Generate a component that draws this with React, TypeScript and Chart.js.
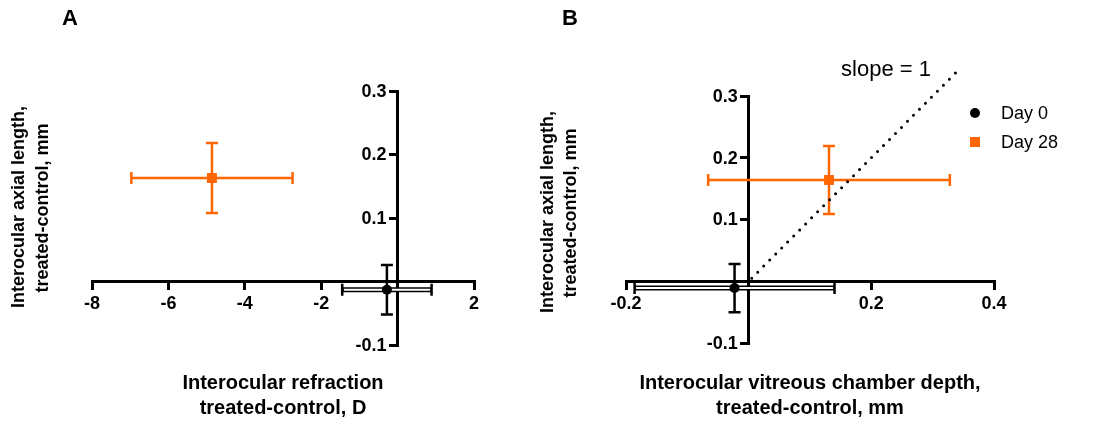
import React, { useEffect, useRef } from 'react';
import { Chart, registerables } from 'chart.js';

Chart.register(...registerables);

const FONT = '"Liberation Sans", Arial, Helvetica, sans-serif';
const ORANGE = '#ff6600';
const BLACK = '#000000';

// ---- data ----
const SERIES = ['Day 0', 'Day 28'];
const SERIES_COLORS = [BLACK, ORANGE];

// Panel A: interocular refraction (D) vs axial length (mm)
const A_X = [-0.28, -4.86];
const A_Y = [-0.013, 0.163];
const A_XERR = [1.17, 2.11];
const A_YERR = [0.039, 0.055];
const A_X_RANGE = [-8, 2];
const A_X_STEP = 2;

// Panel B: vitreous chamber depth (mm) vs axial length (mm)
const B_X = [-0.023, 0.131];
const B_Y = [-0.011, 0.164];
const B_XERR = [0.163, 0.197];
const B_YERR = [0.039, 0.055];
const B_X_RANGE = [-0.2, 0.4];
const B_X_STEP = 0.2;

const Y_RANGE = [-0.1, 0.3];
const Y_STEP = 0.1;

// slope = 1 reference line (x values; y = x)
const SLOPE_X = [0.005, 0.342];

const TICK_FONT = `bold 18px ${FONT}`;

type Txt = { text: string; x: number; y: number; font: string; rot?: number; align?: CanvasTextAlign; color?: string };
type Leg = { x: number; y: number; textX: number };

const fmt1 = (v: number) => (Math.abs(v) < 1e-9 ? '' : Number(v).toFixed(1));
const fmt0 = (v: number) => (Math.abs(v) < 1e-9 ? '' : String(Math.round(v)));

function makeTextPlugin(items: Txt[], legend?: Leg[]) {
  return {
    id: 'texts',
    afterDraw(chart: any) {
      const ctx: CanvasRenderingContext2D = chart.ctx;
      // y tick labels, placed left of the centred y axis
      const sx = chart.scales.x;
      const sy = chart.scales.y;
      const axisPx = sx.getPixelForValue(0);
      ctx.save();
      ctx.font = TICK_FONT;
      ctx.fillStyle = BLACK;
      ctx.textAlign = 'right';
      ctx.textBaseline = 'middle';
      sy.ticks.forEach((t: any) => {
        const lab = fmt1(t.value);
        if (lab) ctx.fillText(lab, axisPx - 11, sy.getPixelForValue(t.value) + 1);
      });
      ctx.restore();

      items.forEach((t) => {
        ctx.save();
        ctx.font = t.font;
        ctx.fillStyle = t.color || BLACK;
        ctx.textAlign = t.align || 'center';
        ctx.textBaseline = 'middle';
        ctx.translate(t.x, t.y);
        if (t.rot) ctx.rotate(t.rot);
        ctx.fillText(t.text, 0, 0);
        ctx.restore();
      });
      if (legend) {
        legend.forEach((l, i) => {
          ctx.save();
          ctx.fillStyle = SERIES_COLORS[i];
          if (i === 0) {
            ctx.beginPath();
            ctx.arc(l.x, l.y, 5, 0, Math.PI * 2);
            ctx.fill();
          } else {
            ctx.fillRect(l.x - 5, l.y - 5, 10, 10);
          }
          ctx.fillStyle = BLACK;
          ctx.font = `18px ${FONT}`;
          ctx.textAlign = 'left';
          ctx.textBaseline = 'middle';
          ctx.fillText(SERIES[i], l.textX, l.y + 1);
          ctx.restore();
        });
      }
    },
  };
}

function makeErrorPlugin(xs: number[], ys: number[], xe: number[], ye: number[]) {
  return {
    id: 'errorBars',
    beforeDatasetsDraw(chart: any) {
      const ctx: CanvasRenderingContext2D = chart.ctx;
      const sx = chart.scales.x;
      const sy = chart.scales.y;
      const cap = 6;
      xs.forEach((xv, i) => {
        const color = SERIES_COLORS[i];
        const px = sx.getPixelForValue(xv);
        const py = sy.getPixelForValue(ys[i]);
        const x1 = sx.getPixelForValue(xv - xe[i]);
        const x2 = sx.getPixelForValue(xv + xe[i]);
        const y1 = sy.getPixelForValue(ys[i] + ye[i]);
        const y2 = sy.getPixelForValue(ys[i] - ye[i]);
        ctx.save();
        ctx.strokeStyle = color;
        ctx.lineCap = 'butt';
        if (i === 0) {
          ctx.lineWidth = 5;
          ctx.beginPath();
          ctx.moveTo(x1, py);
          ctx.lineTo(x2, py);
          ctx.stroke();
          ctx.strokeStyle = '#ffffff';
          ctx.lineWidth = 2;
          ctx.beginPath();
          ctx.moveTo(x1 + 1.5, py);
          ctx.lineTo(x2 - 1.5, py);
          ctx.stroke();
          ctx.strokeStyle = color;
        } else {
          ctx.lineWidth = 2.5;
          ctx.beginPath();
          ctx.moveTo(x1, py);
          ctx.lineTo(x2, py);
          ctx.stroke();
        }
        ctx.lineWidth = 2.5;
        ctx.beginPath();
        ctx.moveTo(x1, py - cap);
        ctx.lineTo(x1, py + cap);
        ctx.moveTo(x2, py - cap);
        ctx.lineTo(x2, py + cap);
        ctx.moveTo(px, y1);
        ctx.lineTo(px, y2);
        ctx.moveTo(px - cap, y1);
        ctx.lineTo(px + cap, y1);
        ctx.moveTo(px - cap, y2);
        ctx.lineTo(px + cap, y2);
        ctx.stroke();
        ctx.restore();
      });
    },
  };
}

function xAxis(range: number[], step: number, fmt: (v: number) => string) {
  return {
    type: 'linear',
    axis: 'x',
    position: { y: 0 },
    min: range[0],
    max: range[1],
    ticks: {
      stepSize: step,
      color: BLACK,
      font: { family: FONT, size: 18, weight: 'bold' },
      padding: 5,
      maxRotation: 0,
      autoSkip: false,
      callback: (v: any) => fmt(Number(v)),
    },
    grid: { drawOnChartArea: false, drawTicks: true, tickLength: 7, color: BLACK, lineWidth: 3 },
    border: { display: true, color: BLACK, width: 3 },
  };
}

function yAxis() {
  return {
    type: 'linear',
    axis: 'y',
    position: { x: 0 },
    min: Y_RANGE[0],
    max: Y_RANGE[1],
    ticks: {
      stepSize: Y_STEP,
      color: BLACK,
      font: { family: FONT, size: 18, weight: 'bold' },
      autoSkip: false,
      callback: () => '',
    },
    grid: { drawOnChartArea: false, drawTicks: true, tickLength: 7, color: BLACK, lineWidth: 3 },
    border: { display: true, color: BLACK, width: 3 },
  };
}

function pointDatasets(xs: number[], ys: number[]) {
  return xs.map((xv, i) => ({
    type: 'scatter',
    label: SERIES[i],
    data: [{ x: xv, y: ys[i] }],
    pointStyle: i === 0 ? 'circle' : 'rect',
    pointRadius: i === 0 ? 5 : 7,
    pointHoverRadius: i === 0 ? 5 : 7,
    backgroundColor: SERIES_COLORS[i],
    borderColor: SERIES_COLORS[i],
    borderWidth: 0,
    clip: false,
  }));
}

const TITLE_FONT = `bold 20px ${FONT}`;
const YTITLE_FONT = `bold 18px ${FONT}`;
const PANEL_FONT = `bold 22px ${FONT}`;

function configA() {
  const texts: Txt[] = [
    { text: 'A', x: 70, y: 19, font: PANEL_FONT },
    { text: 'Interocular refraction', x: 283, y: 383, font: TITLE_FONT },
    { text: 'treated-control, D', x: 283, y: 408, font: TITLE_FONT },
    { text: 'Interocular axial length,', x: 19, y: 207, font: YTITLE_FONT, rot: -Math.PI / 2 },
    { text: 'treated-control, mm', x: 43, y: 208, font: YTITLE_FONT, rot: -Math.PI / 2 },
  ];
  return {
    type: 'scatter',
    data: { datasets: pointDatasets(A_X, A_Y) },
    options: {
      animation: false,
      responsive: false,
      devicePixelRatio: 1,
      layout: { padding: { left: 92, right: 56, top: 91, bottom: 78 } },
      plugins: { legend: { display: false }, tooltip: { enabled: false } },
      scales: { x: xAxis(A_X_RANGE, A_X_STEP, fmt0), y: yAxis() },
    },
    plugins: [makeErrorPlugin(A_X, A_Y, A_XERR, A_YERR), makeTextPlugin(texts)],
  };
}

function configB() {
  const texts: Txt[] = [
    { text: 'B', x: 40, y: 19, font: PANEL_FONT },
    { text: 'Interocular vitreous chamber depth,', x: 280, y: 383, font: TITLE_FONT },
    { text: 'treated-control, mm', x: 280, y: 408, font: TITLE_FONT },
    { text: 'Interocular axial length,', x: 18, y: 212, font: YTITLE_FONT, rot: -Math.PI / 2 },
    { text: 'treated-control, mm', x: 41, y: 213, font: YTITLE_FONT, rot: -Math.PI / 2 },
    { text: 'slope = 1', x: 356, y: 70, font: `22px ${FONT}` },
  ];
  const legend: Leg[] = [
    { x: 445, y: 113, textX: 471 },
    { x: 445, y: 142, textX: 471 },
  ];
  const slope = {
    type: 'line',
    label: 'slope = 1',
    data: SLOPE_X.map((v) => ({ x: v, y: v })),
    borderColor: BLACK,
    borderWidth: 3,
    borderDash: [0, 8.5],
    borderCapStyle: 'round',
    pointRadius: 0,
    fill: false,
    clip: false,
    order: 5,
  };
  return {
    type: 'scatter',
    data: { datasets: [slope, ...pointDatasets(B_X, B_Y)] },
    options: {
      animation: false,
      responsive: false,
      devicePixelRatio: 1,
      layout: { padding: { left: 96, right: 122, top: 96, bottom: 80 } },
      plugins: { legend: { display: false }, tooltip: { enabled: false } },
      scales: { x: xAxis(B_X_RANGE, B_X_STEP, fmt1), y: yAxis() },
    },
    plugins: [makeErrorPlugin(B_X, B_Y, B_XERR, B_YERR), makeTextPlugin(texts, legend)],
  };
}

function Panel({ left, width, make }: { left: number; width: number; make: () => any }) {
  const ref = useRef<HTMLCanvasElement>(null);
  useEffect(() => {
    const chart = new Chart(ref.current as HTMLCanvasElement, make());
    return () => chart.destroy();
  }, []);
  return (
    <canvas
      ref={ref}
      width={width}
      height={423}
      style={{ position: 'absolute', left, top: 0, width, height: 423 }}
    />
  );
}

export default function App() {
  return (
    <div style={{ position: 'absolute', left: 0, top: 0, width: 1116, height: 423, background: '#fff', overflow: 'hidden' }}>
      <Panel left={0} width={530} make={configA} />
      <Panel left={530} width={586} make={configB} />
    </div>
  );
}
